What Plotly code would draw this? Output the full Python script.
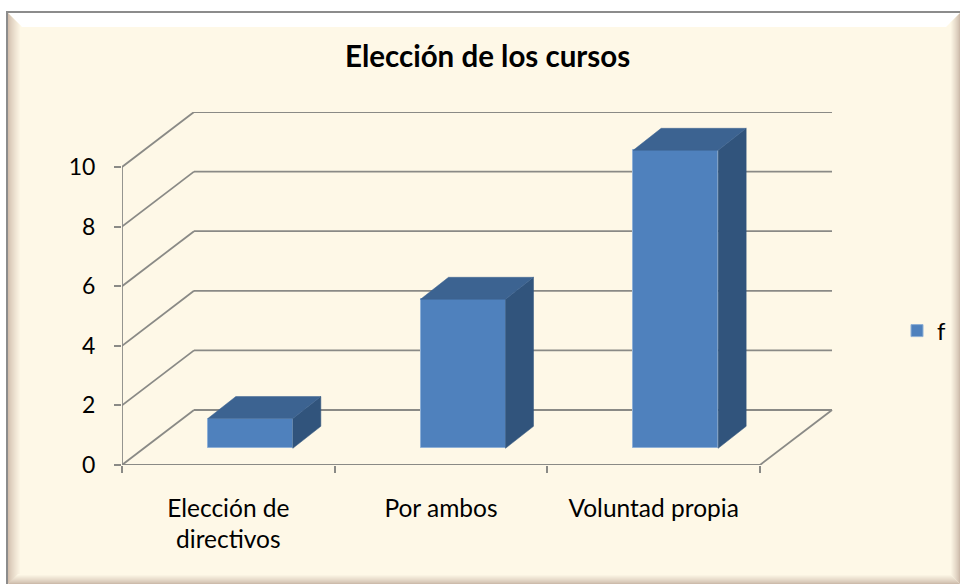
import plotly.graph_objects as go

categories = ["Elección de<br>directivos", "Por ambos", "Voluntad propia"]
values = [1, 5, 10]
y_ticks = [0, 2, 4, 6, 8, 10]
series_name = "f"
title_text = "<b>Elección de los cursos</b>"

W, H = 960, 584
CREAM = "#FEF8E7"
GRID = "#8A8A86"
FRONT, SIDE, TOP = "#4F81BD", "#31547C", "#3C6391"
FONT = "Lato"

# pixel layout of the plot window
PX_L, PX_R, PX_T, PX_B = 122, 833, 112, 465
X_UNIT = 212.67
Y_UNIT = 29.8
x_lo = -0.5
x_hi = x_lo + (PX_R - PX_L) / X_UNIT
y_hi = (PX_B - PX_T) / Y_UNIT

# perspective offsets in axis units
WALL_DX, WALL_DY = 72 / X_UNIT, 55 / Y_UNIT
BAR_DX, BAR_DY = 28 / X_UNIT, 22 / Y_UNIT
FLOOR_DX, FLOOR_DY = 22 / X_UNIT, 16.7 / Y_UNIT
BAR_W = 85 / X_UNIT

xs = list(range(len(categories)))
x_edges = [x_lo + i for i in range(len(categories) + 1)]
x_end = x_edges[-1]

shapes = []


def px(x0, y0, x1, y1):
    return dict(x0=x0 / W, x1=x1 / W, y0=1 - y0 / H, y1=1 - y1 / H, xref="paper", yref="paper")


def poly(points, color):
    d = "M" + " L".join(f"{x / W:.5f},{1 - y / H:.5f}" for x, y in points) + " Z"
    return dict(type="path", path=d, xref="paper", yref="paper", fillcolor=color,
                line=dict(width=0), layer="below")


def mix(a, b, t):
    ca = [int(a[i:i + 2], 16) for i in (1, 3, 5)]
    cb = [int(b[i:i + 2], 16) for i in (1, 3, 5)]
    return "#" + "".join(f"{round(p + (q - p) * t):02X}" for p, q in zip(ca, cb))


# card with a bevelled edge
L, T, R, B = 8, 13, 960, 584
shapes.append(dict(type="rect", **px(6, 11, W, H), fillcolor=CREAM, line=dict(width=0), layer="below"))
shapes.append(dict(type="rect", **px(6, 11, W, 13), fillcolor="#8C8C8C", line=dict(width=0), layer="below"))
shapes.append(dict(type="rect", **px(6, 11, 8, H), fillcolor="#8C8C8C", line=dict(width=0), layer="below"))
for i in range(14):
    shapes.append(poly([(L + i, T + i), (R - i, T + i), (R - i - 1, T + i + 1), (L + i + 1, T + i + 1)], "#FFFFFF"))
for i in range(13):
    t = i / 12
    c = mix("#D2BFAE", CREAM, t ** 0.8)
    shapes.append(poly([(L + i, T + i), (L + i + 1, T + i + 1), (L + i + 1, B - i * 0.7 - 0.7), (L + i, B - i * 0.7)], c))
for i in range(10):
    t = i / 9
    c = mix("#CDBBAB", CREAM, t ** 0.8)
    shapes.append(poly([(R - i, T + i), (R - i, B - i), (R - i - 1, B - i - 1), (R - i - 1, T + i + 1)], c))
    shapes.append(poly([(L + i, B - i), (R - i, B - i), (R - i - 1, B - i - 1), (L + i + 1, B - i - 1)], c))

grid_line = dict(color=GRID, width=1.8)
for v in y_ticks:
    shapes.append(dict(type="line", x0=x_lo + WALL_DX, x1=x_end + WALL_DX, y0=v + WALL_DY, y1=v + WALL_DY,
                       xref="x", yref="y", line=grid_line, layer="below"))
    shapes.append(dict(type="line", x0=x_lo, x1=x_lo + WALL_DX, y0=v, y1=v + WALL_DY,
                       xref="x", yref="y", line=grid_line, layer="below"))
shapes.append(dict(type="line", x0=x_lo, x1=x_lo, y0=0, y1=y_ticks[-1], xref="x", yref="y",
                   line=grid_line, layer="below"))
shapes.append(dict(type="line", x0=x_lo, x1=x_end, y0=0, y1=0, xref="x", yref="y",
                   line=grid_line, layer="below"))
shapes.append(dict(type="line", x0=x_end, x1=x_end + WALL_DX, y0=0, y1=WALL_DY, xref="x", yref="y",
                   line=grid_line, layer="below"))

fig = go.Figure()
bar_x = [x + FLOOR_DX for x in xs]
fig.add_trace(go.Bar(
    x=bar_x, y=values, base=FLOOR_DY, width=BAR_W, name=series_name,
    marker=dict(color=FRONT, line=dict(color="#8FB0D6", width=1)),
    hoverinfo="skip",
))

for cx, v in zip(bar_x, values):
    x0, x1 = cx - BAR_W / 2, cx + BAR_W / 2
    y0, y1 = FLOOR_DY, FLOOR_DY + v
    fig.add_trace(go.Scatter(
        x=[x1, x1 + BAR_DX, x1 + BAR_DX, x1, x1], y=[y0, y0 + BAR_DY, y1 + BAR_DY, y1, y0],
        mode="lines", fill="toself", fillcolor=SIDE, line=dict(color=SIDE, width=0.5),
        showlegend=False, hoverinfo="skip", cliponaxis=False))
    fig.add_trace(go.Scatter(
        x=[x0, x0 + BAR_DX, x1 + BAR_DX, x1, x0], y=[y1, y1 + BAR_DY, y1 + BAR_DY, y1, y1],
        mode="lines", fill="toself", fillcolor=TOP, line=dict(color=TOP, width=0.5),
        showlegend=False, hoverinfo="skip", cliponaxis=False))

fig.update_layout(
    width=W, height=H,
    margin=dict(l=0, r=0, t=0, b=0, pad=0, autoexpand=False),
    paper_bgcolor="white", plot_bgcolor="rgba(0,0,0,0)",
    font=dict(family=FONT, size=24, color="#000000"),
    shapes=shapes,
    bargap=0,
    showlegend=True,
    legend=dict(x=897 / W, y=1 - 331 / H, xanchor="left", yanchor="middle",
                bgcolor="rgba(0,0,0,0)", font=dict(size=24), itemwidth=30),
    annotations=[dict(text=title_text, xref="paper", yref="paper", x=487.5 / W, y=1 - 55.5 / H,
                      xanchor="center", yanchor="middle", showarrow=False,
                      font=dict(family=FONT, size=29.5, color="#000000"))],
    xaxis=dict(
        domain=[PX_L / W, PX_R / W], range=[x_lo, x_hi], tickmode="array", tickvals=xs, ticktext=categories,
        showgrid=False, zeroline=False, showline=False, ticks="", ticklabelstandoff=26,
        minor=dict(tickmode="array", tickvals=x_edges, ticks="outside", ticklen=7, tickcolor=GRID,
                   tickwidth=1.8, showgrid=False),
        tickfont=dict(size=24.5),
    ),
    yaxis=dict(
        domain=[1 - PX_B / H, 1 - PX_T / H], range=[0, y_hi], tickmode="array", tickvals=y_ticks,
        showgrid=False, zeroline=False, showline=False, ticks="outside", ticklen=7, tickcolor=GRID,
        tickwidth=1.8, ticklabelstandoff=14, tickfont=dict(size=23),
    ),
)
fig.write_html("out.html", config=dict(displayModeBar=False),
               post_script="document.body.style.margin='0';document.documentElement.style.overflow='hidden';")
